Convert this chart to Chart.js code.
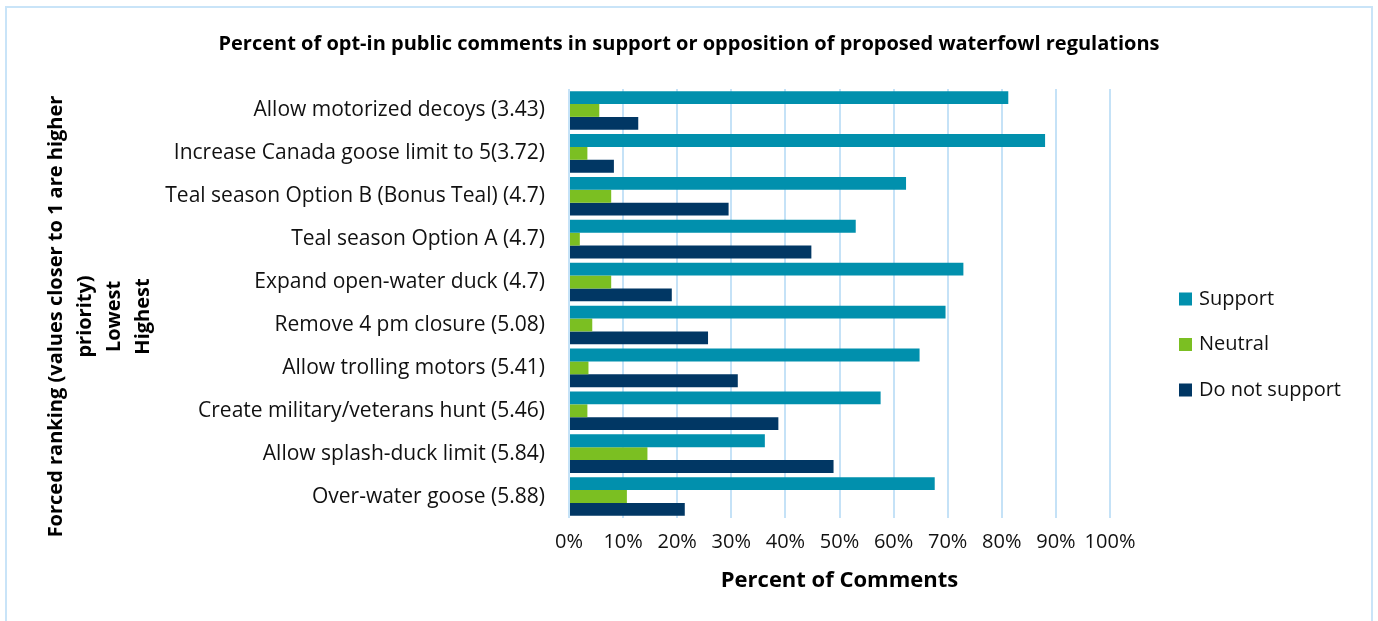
<!DOCTYPE html>
<html>
<head>
<meta charset="utf-8">
<script src="https://cdn.jsdelivr.net/npm/chart.js@4/dist/chart.umd.min.js"></script>
<style>
  html, body { margin: 0; padding: 0; background: #fff; }
  #wrap { position: relative; width: 1378px; height: 621px; }
</style>
</head>
<body>
<div id="wrap"><canvas id="chart" width="1378" height="621"></canvas></div>
<script>
// --- data ---
const categories = [
  'Allow motorized decoys (3.43)',
  'Increase Canada goose limit to 5(3.72)',
  'Teal season Option B (Bonus Teal) (4.7)',
  'Teal season Option A (4.7)',
  'Expand open-water duck (4.7)',
  'Remove 4 pm closure (5.08)',
  'Allow trolling motors (5.41)',
  'Create military/veterans hunt (5.46)',
  'Allow splash-duck limit (5.84)',
  'Over-water goose (5.88)'
];
const supportValues    = [81.2, 88.0, 62.3, 53.0, 72.9, 69.6, 64.8, 57.6, 36.2, 67.6];
const neutralValues    = [5.6, 3.4, 7.8, 2.0, 7.8, 4.3, 3.6, 3.4, 14.5, 10.7];
const notSupportValues = [12.8, 8.3, 29.5, 44.8, 19.0, 25.7, 31.2, 38.7, 48.9, 21.4];
const seriesNames = ['Support', 'Neutral', 'Do not support'];
const seriesColors = ['#0190ad', '#7bbf22', '#013764'];
const yTitleLines = ['Forced ranking (values closer to 1 are higher', 'priority)', 'Lowest', 'Highest'];
const chartTitle = 'Percent of opt-in public comments in support or opposition of proposed waterfowl regulations';

const FONT = "'Open Sans', 'Noto Sans', sans-serif";
// the axis title sits a little below the middle of the axis in the original,
// trailing spaces push each rotated line down a bit
const PAD = '\u00a0\u00a0\u00a0\u00a0\u00a0';

// light blue frame round the whole chart + the title, centred on the full width
const framePlugin = {
  id: 'frame',
  beforeDraw(chart) {
    const ctx = chart.ctx;
    ctx.save();
    ctx.fillStyle = '#fff';
    ctx.fillRect(0, 0, chart.width, chart.height);
    ctx.strokeStyle = '#c9e4f8';
    ctx.lineWidth = 2;
    ctx.strokeRect(6, 7, 1366, 700);
    ctx.font = 'bold 20px ' + FONT;
    ctx.fillStyle = '#000';
    ctx.textAlign = 'center';
    ctx.textBaseline = 'middle';
    ctx.fillText(chartTitle, 689, 44);
    ctx.restore();
  }
};

// legend on the right, drawn from the dataset names and colours
const sideLegend = {
  id: 'sideLegend',
  afterDraw(chart) {
    const ctx = chart.ctx;
    ctx.save();
    ctx.font = '20px ' + FONT;
    ctx.textBaseline = 'middle';
    ctx.textAlign = 'left';
    chart.data.datasets.forEach((ds, i) => {
      const y = 299 + i * 45.5;
      ctx.fillStyle = ds.backgroundColor;
      ctx.fillRect(1179, y - 6.5, 13, 13);
      ctx.fillStyle = '#111';
      ctx.fillText(ds.label, 1199, y);
    });
    ctx.restore();
  }
};

const data = {
  labels: categories,
  datasets: [
    { label: seriesNames[0], data: supportValues, backgroundColor: seriesColors[0] },
    { label: seriesNames[1], data: neutralValues, backgroundColor: seriesColors[1] },
    { label: seriesNames[2], data: notSupportValues, backgroundColor: seriesColors[2] }
  ]
};

new Chart(document.getElementById('chart'), {
  type: 'bar',
  data: data,
  options: {
    indexAxis: 'y',
    responsive: false,
    animation: false,
    datasets: { bar: { categoryPercentage: 0.9, barPercentage: 1.0 } },
    layout: { padding: { left: 10, right: 268, top: 89, bottom: 0 } },
    plugins: {
      legend: { display: false },
      tooltip: { enabled: false },
      title: { display: false }
    },
    scales: {
      x: {
        min: 0,
        max: 100,
        ticks: {
          stepSize: 10,
          color: '#111',
          font: { family: FONT, size: 20 },
          padding: 12,
          maxRotation: 0,
          minRotation: 0,
          autoSkip: false,
          callback: v => v + '%'
        },
        grid: { color: '#c5e2f7', lineWidth: 2, drawTicks: false },
        border: { display: false },
        title: {
          display: true,
          text: 'Percent of Comments',
          color: '#000',
          font: { family: FONT, size: 22, weight: 'bold' },
          padding: { top: 0, bottom: 27 }
        },
        afterFit: scale => { scale.height = 103; }
      },
      y: {
        ticks: {
          color: '#111',
          font: { family: FONT, size: 21 },
          padding: 24
        },
        grid: { display: false, drawTicks: false },
        border: { display: false },
        title: {
          display: true,
          text: yTitleLines.map(t => t + PAD),
          color: '#000',
          font: { family: FONT, size: 20, weight: 'bold', lineHeight: 1.45 },
          padding: { top: 32, bottom: 0 }
        },
        afterFit: scale => { scale.width = 559; }
      }
    }
  },
  plugins: [framePlugin, sideLegend]
});
</script>
</body>
</html>
